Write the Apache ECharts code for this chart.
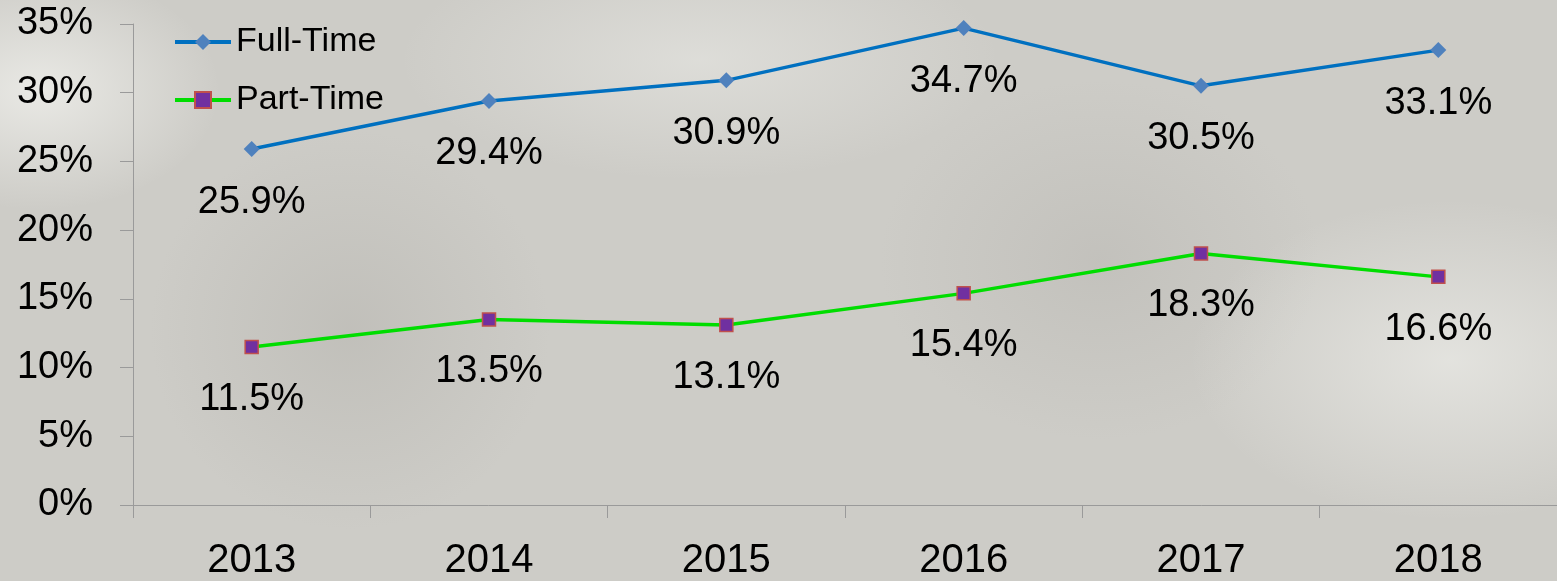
<!DOCTYPE html>
<html>
<head>
<meta charset="utf-8">
<script src="https://cdn.jsdelivr.net/npm/echarts@6/dist/echarts.min.js"></script>
<style>
  html, body { margin: 0; padding: 0; }
  body {
    width: 1557px; height: 581px; overflow: hidden;
    background:
      radial-gradient(ellipse 180px 120px at 40px 90px, rgba(240,240,236,0.8), rgba(240,240,236,0) 100%),
      radial-gradient(ellipse 260px 160px at 1450px 360px, rgba(236,236,232,0.7), rgba(236,236,232,0) 100%),
      radial-gradient(ellipse 300px 120px at 700px 60px, rgba(232,232,228,0.6), rgba(232,232,228,0) 100%),
      radial-gradient(ellipse 200px 200px at 350px 330px, rgba(170,168,162,0.35), rgba(170,168,162,0) 100%),
      radial-gradient(ellipse 220px 180px at 1100px 260px, rgba(175,173,168,0.35), rgba(175,173,168,0) 100%),
      #cdccc7;
  }
  #main { width: 1557px; height: 581px; }
</style>
</head>
<body>
<div id="main"></div>
<script>
//数据
var years = ['2013', '2014', '2015', '2016', '2017', '2018'];
var fullTime = [25.9, 29.4, 30.9, 34.7, 30.5, 33.1];
var partTime = [11.5, 13.5, 13.1, 15.4, 18.3, 16.6];

var fontFamily = '"Liberation Sans", "DejaVu Sans", sans-serif';
var myChart = echarts.init(document.getElementById('main'), null, { renderer: 'canvas' });

var option = {
  backgroundColor: 'transparent',
  textStyle: { fontFamily: fontFamily, color: '#000' },
  grid: { left: 133, right: 0, top: 24, bottom: 70, containLabel: false },
  legend: {
    orient: 'vertical',
    left: 168,
    top: 20,
    itemWidth: 56,
    itemHeight: 20,
    itemGap: 24,
    lineStyle: { width: 4 },
    textStyle: { fontSize: 34, color: '#000', fontFamily: fontFamily },
    data: ['Full-Time', 'Part-Time']
  },
  xAxis: {
    type: 'category',
    data: years,
    boundaryGap: true,
    axisLine: { lineStyle: { color: '#9a9a9a', width: 1 } },
    axisTick: { show: true, length: 13, lineStyle: { color: '#9a9a9a' } },
    axisLabel: { fontSize: 40, color: '#000', margin: 36, fontFamily: fontFamily }
  },
  yAxis: {
    type: 'value',
    min: 0,
    max: 35,
    interval: 5,
    axisLine: { show: true, lineStyle: { color: '#9a9a9a', width: 1 } },
    axisTick: { show: true, length: 13, lineStyle: { color: '#9a9a9a' } },
    splitLine: { show: false },
    axisLabel: { fontSize: 38, color: '#000', margin: 40, formatter: '{value}%', fontFamily: fontFamily }
  },
  series: [
    {
      name: 'Full-Time',
      type: 'line',
      data: fullTime,
      symbol: 'diamond',
      symbolSize: 16,
      lineStyle: { color: '#0070c0', width: 3.5 },
      itemStyle: { color: '#4f81bd', borderWidth: 0 },
      label: {
        show: true, position: 'bottom', distance: 26,
        fontSize: 38, color: '#000', fontFamily: fontFamily,
        formatter: function (p) { return p.value.toFixed(1) + '%'; }
      },
      animation: false
    },
    {
      name: 'Part-Time',
      type: 'line',
      data: partTime,
      symbol: 'rect',
      symbolSize: 13,
      lineStyle: { color: '#00dd00', width: 3.5 },
      itemStyle: { color: '#7030a0', borderColor: '#c0504d', borderWidth: 1.5 },
      label: {
        show: true, position: 'bottom', distance: 26,
        fontSize: 38, color: '#000', fontFamily: fontFamily,
        formatter: function (p) { return p.value.toFixed(1) + '%'; }
      },
      animation: false
    }
  ]
};
myChart.setOption(option);
</script>
</body>
</html>
